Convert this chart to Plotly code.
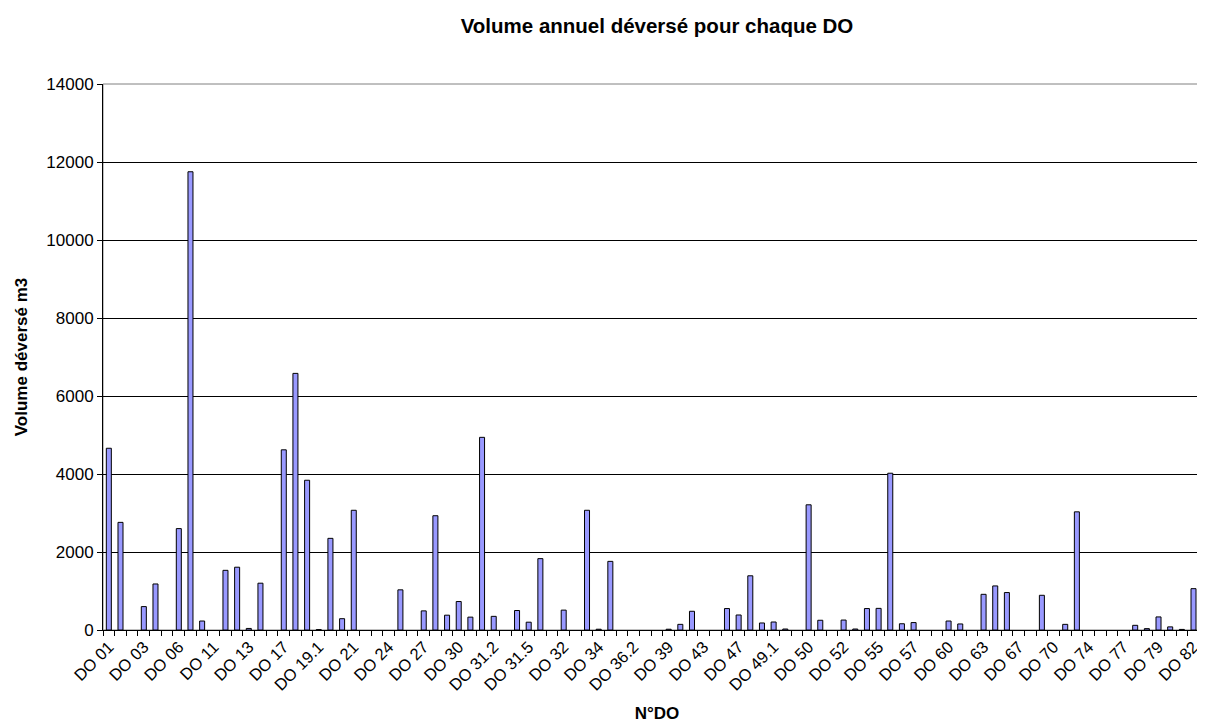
import plotly.graph_objects as go

categories = [
    "DO 01", "DO 02", "DO 02.1", "DO 03", "DO 04", "DO 05", "DO 06", "DO 08", "DO 10",
    "DO 11", "DO 11.1", "DO 12", "DO 13", "DO 14", "DO 16", "DO 17", "DO 18", "DO 19",
    "DO 19.1", "DO 19.2", "DO 20", "DO 21", "DO 22", "DO 23", "DO 24", "DO 25", "DO 26",
    "DO 27", "DO 28", "DO 29", "DO 30", "DO 31", "DO 31.1", "DO 31.2", "DO 31.3", "DO 31.4",
    "DO 31.5", "DO 31.6", "DO 31.7", "DO 32", "DO 33", "DO 33.1", "DO 34", "DO 35", "DO 36.1",
    "DO 36.2", "DO 37", "DO 38", "DO 39", "DO 40", "DO 42", "DO 43", "DO 44", "DO 46",
    "DO 47", "DO 48", "DO 49", "DO 49.1", "DO 49.2", "DO 49.3", "DO 50", "DO 51", "DO 51.1",
    "DO 52", "DO 53", "DO 54", "DO 55", "DO 56", "DO 56.1", "DO 57", "DO 58", "DO 59",
    "DO 60", "DO 61", "DO 62", "DO 63", "DO 64", "DO 66", "DO 67", "DO 68", "DO 69",
    "DO 70", "DO 71", "DO 73", "DO 74", "DO 75", "DO 76", "DO 77", "DO 78", "DO 78.1",
    "DO 79", "DO 80", "DO 81", "DO 82", "DO 83",
]

# None = no discharge recorded (no bar drawn)
volumes = [
    4660, 2760, None, 600, 1180, None, 2600, 11750, 230,
    None, 1530, 1610, 40, 1200, None, 4620, 6580, 3840,
    10, 2350, 290, 3070, None, None, None, 1030, None,
    490, 2930, 380, 730, 330, 4940, 350, None, 500,
    200, 1830, None, 510, None, 3070, 20, 1760, None,
    None, None, None, 20, 145, 480, None, None, 550,
    385, 1390, 180, 205, 25, None, 3210, 250, None,
    255, 25, 550, 555, 4020, 160, 190, None, None,
    230, 155, None, 915, 1130, 960, None, None, 890,
    None, 145, 3030, None, None, None, None, 120, 35,
    335, 80, 15, 1060, None,
]

# show a label every third category
tick_text = [c if i % 3 == 0 else "" for i, c in enumerate(categories)]

title_text = "Volume annuel déversé pour chaque DO"
x_title = "N°DO"
y_title = "Volume déversé m3"
y_ticks = [0, 2000, 4000, 6000, 8000, 10000, 12000, 14000]
y_tick_text = [str(v) for v in y_ticks]

font_family = "Liberation Sans, Arial, sans-serif"

fig = go.Figure(
    go.Bar(
        x=categories,
        y=volumes,
        marker=dict(color="#9999FF", line=dict(color="#000000", width=1)),
        hoverinfo="x+y",
    )
)

fig.update_layout(
    width=1205,
    height=726,
    paper_bgcolor="white",
    plot_bgcolor="white",
    margin=dict(l=95, r=2, t=76, b=104, autoexpand=False),
    bargap=0.57,
    showlegend=False,
    font=dict(family=font_family, size=17, color="black"),
    title=dict(
        text="<b>" + title_text + "</b>",
        x=0.5,
        xanchor="center",
        xref="paper",
        y=0.975,
        yanchor="middle",
        font=dict(family=font_family, size=20.5, color="black"),
    ),
    shapes=[
        dict(
            type="rect", xref="paper", yref="paper", x0=0, y0=0, x1=1, y1=1,
            line=dict(color="#808080", width=1), layer="below",
        )
    ],
)

fig.update_xaxes(
    type="category",
    automargin=False,
    tickmode="array",
    tickvals=categories,
    ticktext=tick_text,
    tickangle=-45,
    tickson="boundaries",
    ticks="outside",
    ticklen=5,
    tickcolor="black",
    showline=True,
    linecolor="black",
    linewidth=1,
    showgrid=False,
    tickfont=dict(family=font_family, size=16.5, color="black"),
    title=dict(
        text="<b>" + x_title + "</b>",
        font=dict(family=font_family, size=17, color="black"),
        standoff=14,
    ),
)

fig.update_yaxes(
    automargin=False,
    range=[0, 14000],
    tickmode="array",
    tickvals=y_ticks,
    ticktext=y_tick_text,
    ticks="outside",
    ticklen=5,
    tickcolor="black",
    showline=True,
    linecolor="black",
    linewidth=1,
    showgrid=True,
    gridcolor="black",
    gridwidth=1,
    zeroline=False,
    tickfont=dict(family=font_family, size=17, color="black"),
    title=dict(
        text="<b>" + y_title + "</b>",
        font=dict(family=font_family, size=17, color="black"),
        standoff=14,
    ),
)

fig.write_html("out.html")
